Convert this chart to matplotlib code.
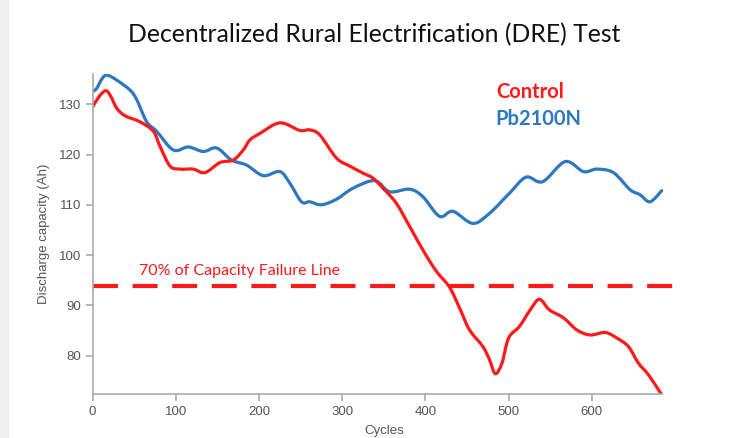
import matplotlib
matplotlib.use("Agg")
import matplotlib.pyplot as plt
import numpy as np
from matplotlib.patches import Rectangle, PathPatch
from matplotlib.path import Path

# Control (red) - cycles / capacity
control_x = [0, 8, 16, 22, 29, 39, 57, 73, 81, 93, 105, 121, 135, 153, 169, 181, 189,
             201, 225, 249, 261, 273, 293, 309, 325, 337, 349, 365, 381, 397, 413, 429,
             442, 453, 469, 477, 484, 492, 500, 513, 526, 537, 549, 566, 582, 598, 616,
             630, 644, 656, 668, 684]
control_y = [129.5, 131.6, 132.7, 131.5, 129.2, 127.7, 126.5, 124.6, 121.6, 117.7, 117.1,
             117.1, 116.4, 118.4, 118.9, 120.9, 122.9, 124.2, 126.3, 124.8, 124.9, 123.9,
             119.3, 117.7, 116.3, 115.3, 113.3, 110.3, 105.7, 101.0, 96.8, 93.6, 89.1,
             85.1, 81.8, 79.2, 76.4, 78.5, 83.5, 85.8, 89.1, 91.2, 89.1, 87.5, 85.1, 84.1,
             84.6, 83.5, 81.8, 78.5, 76.2, 72.2]

# Pb2100N (blue)
pb_x = [0, 5, 11, 17, 29, 45, 53, 65, 77, 97, 115, 133, 149, 167, 185, 205, 225, 237,
        251, 261, 275, 293, 313, 339, 357, 381, 397, 417, 433, 457, 477, 501, 521, 541,
        568, 590, 606, 626, 646, 658, 670, 684]
pb_y = [132.5, 133.2, 135.0, 135.8, 134.8, 132.8, 130.9, 126.5, 124.6, 120.9, 121.5,
        120.6, 121.3, 118.9, 117.9, 115.8, 116.6, 114.3, 110.6, 110.6, 110.0, 111.1,
        113.3, 114.8, 112.6, 113.1, 111.6, 107.7, 108.7, 106.3, 108.3, 112.3, 115.5,
        114.6, 118.6, 116.6, 117.1, 116.4, 113.0, 112.0, 110.6, 112.8]

failure_level = 93.9
x_ticks = [0, 100, 200, 300, 400, 500, 600]
y_ticks = [80, 90, 100, 110, 120, 130]

red = "#ff1a1a"
blue = "#2e78c0"
grey = "#555555"


def smooth_path(xs, ys):
    # catmull-rom through the points, drawn as bezier segments
    p = np.column_stack([xs, ys]).astype(float)
    p = np.vstack([p[0], p, p[-1]])
    verts = [p[1]]
    codes = [Path.MOVETO]
    for i in range(1, len(p) - 2):
        c1 = p[i] + (p[i + 1] - p[i - 1]) / 6
        c2 = p[i + 1] - (p[i + 2] - p[i]) / 6
        verts += [c1, c2, p[i + 1]]
        codes += [Path.CURVE4] * 3
    return Path(verts, codes)


fig = plt.figure(figsize=(7.39, 4.38), dpi=100, facecolor="#efefef")
bg = Rectangle((9 / 739, 0), 1, 1, transform=fig.transFigure,
               facecolor="white", edgecolor="none", zorder=-10)
fig.add_artist(bg)

ax = fig.add_axes([0.1254, 0.0998, 0.788, 0.731])
ax.set_facecolor("none")

ax.add_patch(PathPatch(smooth_path(pb_x, pb_y), facecolor="none", edgecolor=blue,
                       lw=2.3, joinstyle="round", capstyle="round"))
ax.add_patch(PathPatch(smooth_path(control_x, control_y), facecolor="none",
                       edgecolor=red, lw=2.3, joinstyle="round", capstyle="round"))
ax.plot([0, 700], [failure_level, failure_level], color=red, lw=3,
        dashes=(6, 3.5), clip_on=False)

ax.set_xlim(0, 700)
ax.set_ylim(72.3, 136)
ax.set_xticks(x_ticks)
ax.set_yticks(y_ticks)

for side in ["top", "right"]:
    ax.spines[side].set_visible(False)
for side in ["left", "bottom"]:
    ax.spines[side].set_color("#aaaaaa")
    ax.spines[side].set_linewidth(1.2)
ax.spines["bottom"].set_bounds(0, 684)
ax.tick_params(colors="#aaaaaa", labelcolor=grey, labelsize=9.5, length=5, width=1.2)
for lab in ax.get_xticklabels() + ax.get_yticklabels():
    lab.set_family("Liberation Sans")

ax.set_ylabel("Discharge capacity (Ah)", color=grey, fontsize=9.5,
              family="Liberation Sans", labelpad=6)
ax.set_xlabel("Cycles", color=grey, fontsize=9.5, family="Liberation Sans", labelpad=5)

fig.text(0.188, 0.382, "70% of Capacity Failure Line", color=red, fontsize=11.5,
         family="Lato", va="center")
fig.text(0.671, 0.79, "Control", color=red, fontsize=14.5, family="Lato",
         weight="bold", va="center")
fig.text(0.671, 0.728, "Pb2100N", color=blue, fontsize=14.5, family="Lato",
         weight="bold", va="center")

fig.text(0.507, 0.92, "Decentralized Rural Electrification (DRE) Test",
         ha="center", va="center", fontsize=17.8, family="Lato", color="#111111")

fig.savefig("out.png", dpi=100, facecolor=fig.get_facecolor())
